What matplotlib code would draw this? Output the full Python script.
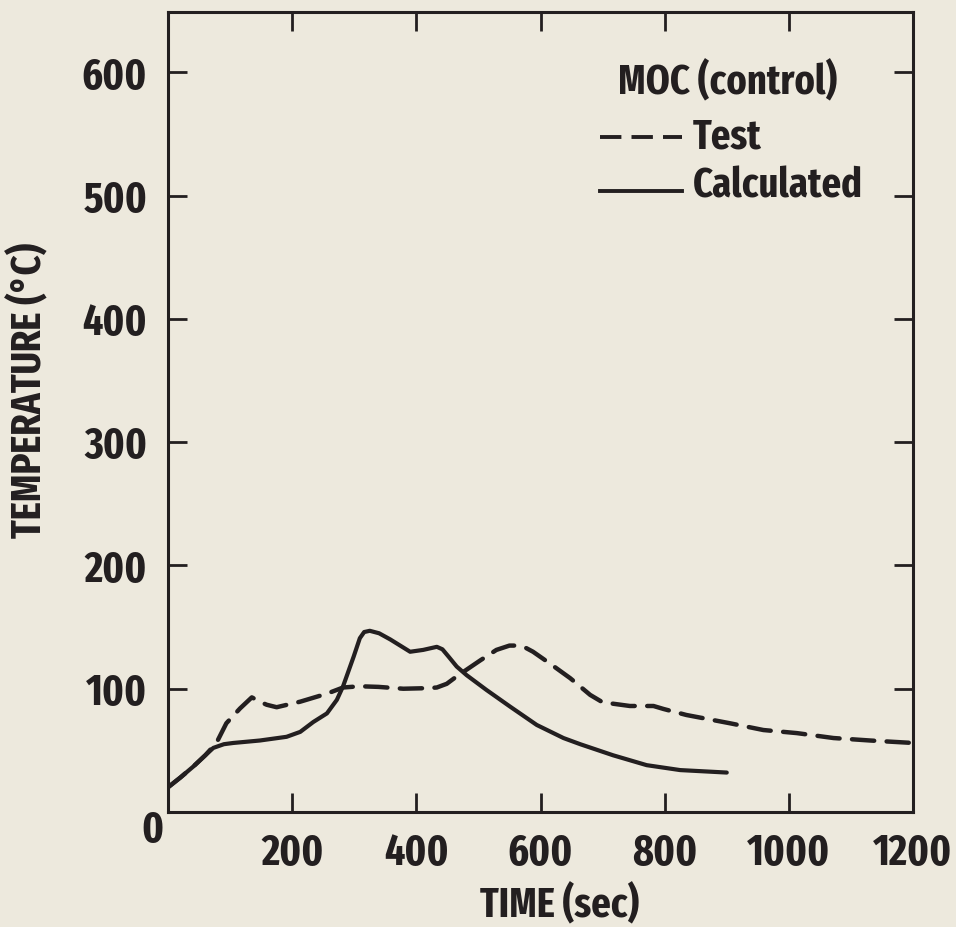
import matplotlib.pyplot as plt
import numpy as np

# Condensed bold lettering like the original report figure
plt.rcParams['font.family'] = ['Fira Sans Extra Condensed', 'Fira Sans Condensed',
                               'Liberation Sans Narrow', 'DejaVu Sans']
plt.rcParams['font.weight'] = 'bold'

ink = '#231f20'
paper = '#ede9dd'

# Calculated curve (solid)
calc_time = [0, 20, 41, 60, 73, 90, 105, 148, 191, 213, 234, 256, 272, 282, 299, 309,
             316, 325, 340, 358, 390, 411, 433, 442, 452, 465, 481, 513, 551, 594, 637,
             664, 717, 771, 825, 900]
calc_temp = [20, 28, 37, 46, 52, 55, 56, 58, 61, 65, 73, 80, 91, 102, 126, 141,
             146, 147, 145, 140, 130, 131.5, 134, 132, 126, 118, 111, 99, 85.5, 70.6, 60,
             55, 46, 38, 34, 32]

# Test curve (dashed)
test_time = [0, 20, 41, 60, 78, 94, 116, 135, 150, 159, 175, 213, 256, 282, 309, 339,
             379, 420, 433, 449, 465, 503, 529, 550, 561, 575, 588, 615, 648, 680, 700,
             744, 782, 798, 835, 905, 959, 1013, 1072, 1131, 1200]
test_temp = [20, 28, 37, 46, 56, 72, 84, 93, 89, 87, 85, 89.5, 96, 101, 102, 101.5,
             100, 100.5, 101, 104, 110, 123, 131.5, 135, 135, 133.5, 130, 120.5, 108.5, 95,
             89, 86, 86, 83.6, 78.7, 72, 66.5, 64, 60, 58, 56]

x_ticks = [200, 400, 600, 800, 1000, 1200]
y_ticks = [100, 200, 300, 400, 500, 600]

fig = plt.figure(figsize=(9.56, 9.27), dpi=100, facecolor=paper)
ax = fig.add_axes([168 / 956, 1 - 812 / 927, 745 / 956, 800 / 927])
ax.set_facecolor(paper)

ax.plot(calc_time, calc_temp, color=ink, lw=3.0, solid_capstyle='round',
        solid_joinstyle='round')
ax.plot(test_time, test_temp, color=ink, lw=3.2, dashes=(5.0, 2.8),
        dash_capstyle='round', dash_joinstyle='round')

ax.set_xlim(0, 1200)
ax.set_ylim(0, 649)
ax.set_xticks(x_ticks)
ax.set_yticks(y_ticks)
ax.set_xticklabels([str(v) for v in x_ticks])
ax.set_yticklabels([str(v) for v in y_ticks])

ax.tick_params(axis='both', which='major', direction='in', length=13.5, width=2,
               color=ink, labelsize=31, labelcolor=ink, pad=15,
               top=True, right=True)
for lab in ax.get_xticklabels() + ax.get_yticklabels():
    lab.set_fontweight('bold')

for spine in ax.spines.values():
    spine.set_linewidth(2.2)
    spine.set_color(ink)

# shared origin label
ax.annotate('0', xy=(0, 0), xytext=(-11.5, -13.5), textcoords='offset points',
            ha='center', va='center', fontsize=31, fontweight='bold', color=ink,
            annotation_clip=False)

ax.set_xlabel('TIME (sec)', fontsize=30, fontweight='bold', color=ink, va='center')
ax.set_ylabel('TEMPERATURE (°C)', fontsize=30, fontweight='bold', color=ink, va='center')
ax.xaxis.set_label_coords(0.526, -0.116)
ax.yaxis.set_label_coords(-0.187, 0.5275)

# legend drawn by hand
ax.text(0.604, 0.9125, 'MOC (control)', transform=ax.transAxes, ha='left',
        va='center', fontsize=30, fontweight='bold', color=ink)
ax.plot([0.580, 0.690], [0.844, 0.844], transform=ax.transAxes, color=ink, lw=2.8,
        dashes=(5.5, 2.6), dash_capstyle='butt')
ax.text(0.705, 0.844, 'Test', transform=ax.transAxes, ha='left', va='center',
        fontsize=30, fontweight='bold', color=ink)
ax.plot([0.580, 0.690], [0.776, 0.776], transform=ax.transAxes, color=ink, lw=2.8)
ax.text(0.705, 0.7825, 'Calculated', transform=ax.transAxes, ha='left', va='center',
        fontsize=30, fontweight='bold', color=ink)

fig.savefig('out.png', dpi=100, facecolor=paper)
